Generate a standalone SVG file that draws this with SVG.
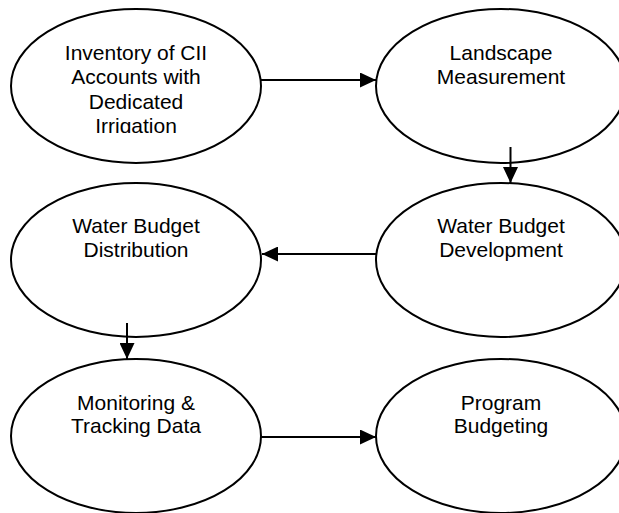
<svg xmlns="http://www.w3.org/2000/svg" width="619" height="513" viewBox="0 0 619 513">
  <style>
    .node ellipse { fill: #ffffff; stroke: #000000; stroke-width: 2; }
    .node text { font-family: "Liberation Sans", Arial, sans-serif; font-size: 21px; fill: #000000; text-anchor: middle; }
    .edges line { stroke: #000000; stroke-width: 2; marker-end: url(#arrow); }
  </style>
  <defs>
    <marker id="arrow" markerUnits="userSpaceOnUse" markerWidth="16" markerHeight="15" refX="16" refY="7.5" orient="auto">
      <path d="M0,0 L16,7.5 L0,15 Z" fill="#000000"/>
    </marker>
    <clipPath id="clip-inventory">
      <rect x="40" y="30" width="200" height="103"/>
    </clipPath>
  </defs>
  <rect width="619" height="513" fill="#ffffff"/>

  <g id="inventory" class="node">
    <ellipse cx="136" cy="86" rx="125" ry="77"/>
    <g clip-path="url(#clip-inventory)">
      <text x="136" y="60">Inventory of CII</text>
      <text x="136" y="84">Accounts with</text>
      <text x="136" y="109">Dedicated</text>
      <text x="136" y="133">Irrigation</text>
    </g>
  </g>

  <g id="landscape" class="node">
    <ellipse cx="501" cy="86" rx="125" ry="77"/>
    <text x="501" y="60">Landscape</text>
    <text x="501" y="84">Measurement</text>
  </g>

  <g id="wb-development" class="node">
    <ellipse cx="501" cy="260" rx="125" ry="77"/>
    <text x="501" y="233">Water Budget</text>
    <text x="501" y="257">Development</text>
  </g>

  <g id="wb-distribution" class="node">
    <ellipse cx="136" cy="260" rx="125" ry="77"/>
    <text x="136" y="233">Water Budget</text>
    <text x="136" y="257">Distribution</text>
  </g>

  <g id="monitoring" class="node">
    <ellipse cx="136" cy="436" rx="125" ry="77"/>
    <text x="136" y="410">Monitoring &amp;</text>
    <text x="136" y="433">Tracking Data</text>
  </g>

  <g id="program-budgeting" class="node">
    <ellipse cx="501" cy="436" rx="125" ry="77"/>
    <text x="501" y="410">Program</text>
    <text x="501" y="433">Budgeting</text>
  </g>

  <g id="edges" class="edges">
    <line x1="261" y1="80" x2="376" y2="80"/>
    <line x1="510.5" y1="147" x2="510.5" y2="183"/>
    <line x1="376" y1="254" x2="262" y2="254"/>
    <line x1="127" y1="323" x2="127" y2="359"/>
    <line x1="261" y1="437" x2="376" y2="437"/>
  </g>
</svg>
